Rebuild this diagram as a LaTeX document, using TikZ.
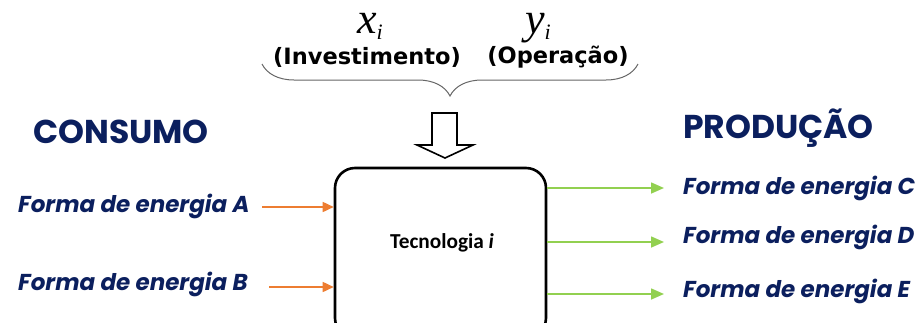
\documentclass[tikz,border=0pt]{standalone}
\usepackage{fontspec}
\usetikzlibrary{arrows.meta,decorations.pathreplacing}
\newfontfamily\popfont{Poppins}
\newfontfamily\dvfont{DejaVu Sans}
\newfontfamily\calfont{Carlito}
\newfontfamily\timesfont{Liberation Serif}
\definecolor{navy}{HTML}{0B1F5E}
\definecolor{orng}{HTML}{ED7D31}
\definecolor{grn}{HTML}{92D050}
\tikzset{
  title/.style={font=\popfont\bfseries\fontsize{33}{36}\selectfont, text=navy, inner sep=0pt},
  form/.style={font=\popfont\bfseries\itshape\fontsize{23}{26}\selectfont, text=navy, inner sep=0pt},
  paren/.style={font=\dvfont\bfseries\fontsize{22.5}{25}\selectfont, text=black, inner sep=0pt},
  var/.style={font=\timesfont\itshape\fontsize{44}{48}\selectfont, inner sep=0pt, anchor=base, text height=20pt, text depth=2pt},
  inarrow/.style={draw=orng, line width=1.6pt, -{Triangle[length=11pt,width=10pt]}},
  outarrow/.style={draw=grn, line width=1.6pt, -{Triangle[length=13pt,width=11pt]}},
  techbox/.style={draw, line width=2.6pt, rounded corners=20pt, minimum width=211pt, minimum height=170pt, inner sep=0pt}
}
\begin{document}
\begin{tikzpicture}[x=1pt,y=-1pt]
\useasboundingbox (0,0) rectangle (919,322);
% main box
\node[techbox] (tech) at (440.5,253) {};
\node[font=\calfont\bfseries\fontsize{21.3}{24}\selectfont, inner sep=0pt] (techlabel) at (442,243) {Tecnologia \textit{i}};
% variables
\node[var] (xi) at (370,33) {x\raisebox{-6pt}{\fontsize{22}{24}\selectfont i}};
\node[var] (yi) at (538,33) {y\raisebox{-6pt}{\fontsize{22}{24}\selectfont i}};
\node[paren] (inv) at (367,57) {(Investimento)};
\node[paren] (oper) at (558,57) {(Operação)};
% brace
\coordinate (bl) at (262,64);
\coordinate (br) at (638,64);
\draw[gray!80!black, line width=1pt, decorate, decoration={brace, mirror, amplitude=32pt, aspect=0.5}] (bl) -- (br);
% hollow arrow
\draw[line width=1.6pt, line join=miter] (432,113) -- (457,113) -- (457,145) -- (473,145) -- (445,158) -- (417,145) -- (432,145) -- cycle;
% titles
\node[title, anchor=west] (cons) at (33,132) {CONSUMO};
\node[title, anchor=west] (prod) at (683,128) {PRODUÇÃO};
% inputs
\node[form, anchor=west] (fa) at (18,206) {Forma de energia A};
\node[form, anchor=west] (fb) at (18,284) {Forma de energia B};
\coordinate (fa0) at (262,207);
\coordinate (fb0) at (269,287);
\draw[inarrow] (fa0) -- (tech.west |- fa0);
\draw[inarrow] (fb0) -- (tech.west |- fb0);
% outputs
\node[form, anchor=west] (fc) at (683,188) {Forma de energia C};
\node[form, anchor=west] (fd) at (683,237) {Forma de energia D};
\node[form, anchor=west] (fe) at (683,291) {Forma de energia E};
\coordinate (fc1) at (664,188);
\coordinate (fd1) at (664,242);
\coordinate (fe1) at (664,294);
\draw[outarrow] (tech.east |- fc1) -- (fc1);
\draw[outarrow] (tech.east |- fd1) -- (fd1);
\draw[outarrow] (tech.east |- fe1) -- (fe1);
\end{tikzpicture}
\end{document}
